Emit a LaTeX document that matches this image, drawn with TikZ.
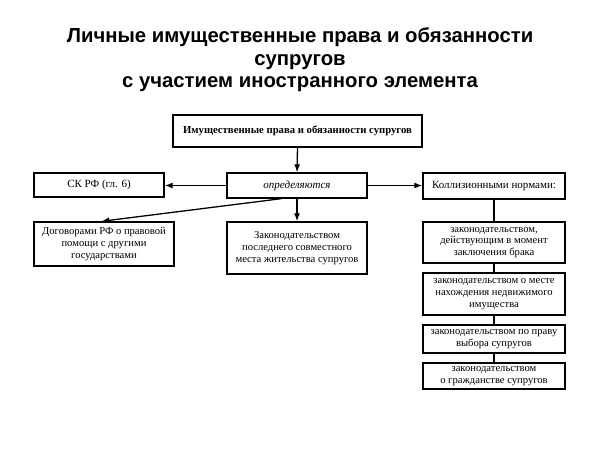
\documentclass[tikz,border=0pt]{standalone}
\usepackage{fontspec}
\setmainfont{Liberation Serif}
\newfontfamily\titlefont{Liberation Sans}
\usetikzlibrary{arrows.meta,calc}
\begin{document}
\begin{tikzpicture}[x=1pt,y=-1pt,
  box/.style={draw,line width=1.3pt,inner sep=2pt,align=center,font=\fontsize{10.6}{11.8}\selectfont},
  arr/.style={line width=1.3pt,-{Latex[length=8pt,width=6pt]}},
  ln/.style={line width=1.3pt}]
\useasboundingbox (0,0) rectangle (600,449);
\node[font=\titlefont\bfseries\fontsize{20.3}{22.5}\selectfont,align=center] (title) at (300,60)
  {Личные имущественные права и обязанности\\супругов\\с участием иностранного элемента};
\node[box,minimum width=249pt,minimum height=32pt,font=\bfseries\fontsize{10.7}{12}\selectfont] (top) at (297.5,131) {Имущественные права и обязанности супругов};
\node[box,minimum width=140pt,minimum height=25pt,font=\itshape\fontsize{11}{12}\selectfont] (opr) at (297,185.5) {определяются};
\node[box,minimum width=130pt,minimum height=24pt,font=\fontsize{11}{12}\selectfont] (sk) at (99,185) {СК РФ (гл. 6)};
\node[box,minimum width=140pt,minimum height=44pt] (dog) at (104,244) {Договорами РФ о правовой\\помощи с другими\\государствами};
\node[box,minimum width=140pt,minimum height=52pt] (zak) at (297,248) {Законодательством\\последнего совместного\\места жительства супругов};
\node[box,minimum width=142pt,minimum height=26pt,font=\fontsize{11}{12}\selectfont] (kol) at (494,186) {Коллизионными нормами:};
\node[box,minimum width=142pt,minimum height=41pt] (r1) at (494,242.5) {законодательством,\\действующим в момент\\заключения брака};
\node[box,minimum width=142pt,minimum height=42pt] (r2) at (494,294) {законодательством о месте\\нахождения недвижимого\\имущества};
\node[box,minimum width=142pt,minimum height=28pt] (r3) at (494,339) {законодательством по праву\\выбора супругов};
\node[box,minimum width=142pt,minimum height=26pt] (r4) at (494,376) {законодательством\\о гражданстве супругов};
\draw[arr] (top.south) -- (opr.north);
\draw[arr] (opr.west) -- (sk.east |- opr.west);
\draw[arr] (opr.east) -- (kol.west |- opr.east);
\draw[arr] ($(opr.south west)!0.39!(opr.south east)$) -- ($(dog.north west)!0.48!(dog.north east)$);
\draw[arr] (opr.south) -- (zak.north);
\draw[ln] (kol.south) -- (r1.north);
\draw[ln] (r1.south) -- (r2.north);
\draw[ln] (r2.south) -- (r3.north);
\draw[ln] (r3.south) -- (r4.north);
\end{tikzpicture}
\end{document}
